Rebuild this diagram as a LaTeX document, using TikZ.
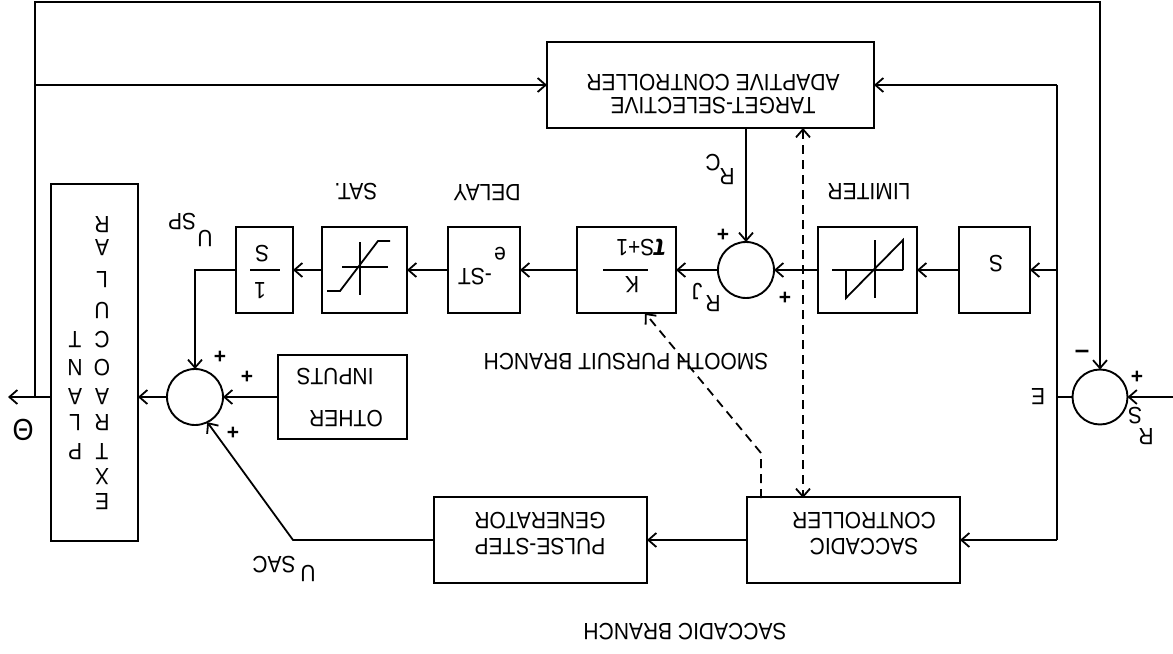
\documentclass[tikz,border=0pt]{standalone}
\usepackage{fontspec}
\setmainfont{Liberation Sans}
\usetikzlibrary{arrows.meta}
\begin{document}
\begin{tikzpicture}[x=1bp,y=-1bp,
  lw/.style={line width=1.8bp},
  blk/.style={draw, line width=2.1bp, inner sep=0pt, outer sep=0pt},
  sumc/.style={draw, circle, line width=1.9bp, minimum size=56bp, inner sep=0pt, outer sep=0pt},
  arr/.style={lw, -{Straight Barb[length=8bp,width=14bp]}},
  darr/.style={lw, dash pattern=on 9bp off 6bp, -{Straight Barb[length=8bp,width=14bp]}},
  dbarr/.style={lw, dash pattern=on 9bp off 6bp, {Straight Barb[length=8bp,width=14bp]}-{Straight Barb[length=8bp,width=14bp]}},
  txt/.style={rotate=180, yscale=1.12, inner sep=0pt, font=\fontsize{21bp}{25bp}\selectfont},
  sgn/.style={inner sep=0pt, font=\fontsize{21bp}{22bp}\selectfont\bfseries},
]
\useasboundingbox (0,0) rectangle (1173,654);
\fill[white] (0,0) rectangle (1173,654);

% blocks
\node[blk, minimum width=87bp, minimum height=357bp] (plant) at (94.5,362.5) {};
\node[blk, minimum width=57bp, minimum height=86bp] (integ) at (264.5,270) {};
\node[blk, minimum width=85bp, minimum height=86bp] (sat) at (364.5,270) {};
\node[blk, minimum width=72bp, minimum height=86bp] (delay) at (484,270) {};
\node[blk, minimum width=99bp, minimum height=86bp] (kbox) at (626.5,270) {};
\node[blk, minimum width=99bp, minimum height=86bp] (lim) at (867.5,270) {};
\node[blk, minimum width=71bp, minimum height=86bp] (sbox) at (994.5,270) {};
\node[blk, minimum width=327bp, minimum height=86bp] (target) at (710.5,85) {};
\node[blk, minimum width=129bp, minimum height=84bp] (other) at (342.5,397) {};
\node[blk, minimum width=213bp, minimum height=86bp] (pulse) at (540.5,540) {};
\node[blk, minimum width=213bp, minimum height=86bp] (sacc) at (853.5,540) {};
\node[sumc] (sum1) at (195,397) {};
\node[sumc] (sum2) at (746,270) {};
\node[sumc, minimum size=55bp] (err) at (1100,397) {};

% coordinates for free ends and junctions
\coordinate (thetaend) at (8,397);
\coordinate (j1) at (35,397);
\coordinate (tl) at (35,2);
\coordinate (j2) at (35,85);
\coordinate (rsin) at (1173,397);
\coordinate (ej) at (1057,397);
\coordinate (etop) at (1057,85);
\coordinate (emid) at (1057,270);
\coordinate (ebot) at (1057,540);
\coordinate (dtop) at (803,128);
\coordinate (dbot) at (803,498);
\coordinate (sp0) at (761,498);
\coordinate (sp1) at (761,453);
\coordinate (sp2) at (645,313);
\coordinate (pbend) at (293,540);

% block symbols
\draw[lw] (342,267) -- (388,267) (360,242) -- (360,295);
\draw[lw] (327,291) -- (340,291) -- (378,241) -- (390,241);
\draw[lw] (832,270) -- (903,270) (875,240) -- (875,298);
\draw[lw] (846,270) -- (846,298) -- (903,240) -- (903,270);
\draw[lw] (250,270) -- (280,270);
\draw[lw] (603,270) -- (648,270);

% connectors
\draw[arr] (sbox.west) -- (lim.east);
\draw[arr] (lim.west) -- (sum2.east);
\draw[arr] (sum2.west) -- (kbox.east);
\draw[arr] (kbox.west) -- (delay.east);
\draw[arr] (delay.west) -- (sat.east);
\draw[arr] (sat.west) -- (integ.east);
\draw[arr] (integ.west) -| (sum1.north);
\draw[arr] (other.west) -- (sum1.east);
\draw[arr] (sum1.west) -- (sum1.west -| plant.east);
\draw[arr] (thetaend -| plant.west) -- (thetaend);
\draw[arr] (j1) -- (tl) -| (err.north);
\draw[arr] (j2) -- (target.west);
\draw[arr] (rsin) -- (err.east);
\draw[lw] (err.west) -- (ej);
\draw[lw] (etop) -- (ebot);
\draw[arr] (etop) -- (target.east);
\draw[arr] (emid) -- (sbox.east);
\draw[arr] (ebot) -- (sacc.east);
\draw[arr] (sum2 |- target.south) -- (sum2.north);
\draw[dbarr] (dtop) -- (dbot);
\draw[darr] (sp0) -- (sp1) -- (sp2);
\draw[arr] (sacc.west) -- (pulse.east);
\draw[arr] (pulse.west) -- (pbend) -- (sum1.-64);

% block texts
\node[txt] (ts) at (996,264) {S};
\node[txt] (ti1) at (262,254) {S};
\node[txt] (ti2) at (260,291) {1};
\node[txt] (tk1) at (641,248) {{\fontsize{27bp}{27bp}\selectfont\bfseries\itshape τ}S+1};
\node[txt] (tk2) at (632,285) {K};
\node[txt] (td1) at (500,254) {e};
\node[txt] (td2) at (475,277) {-ST};
\node[txt] (lsat) at (356,192) {SAT.};
\node[txt] (ldel) at (487,193) {DELAY};
\node[txt] (llim) at (869,192) {LIMITER};
\node[txt, align=center, font=\fontsize{21bp}{21bp}\selectfont] (ttar) at (713,94) {TARGET-SELECTIVE\\ADAPTIVE CONTROLLER};
\node[txt, align=center, font=\fontsize{21bp}{23bp}\selectfont] (tsac) at (864,533.5) {SACCADIC\\CONTROLLER};
\node[txt, align=center, font=\fontsize{21bp}{23bp}\selectfont] (tpul) at (540,533.5) {PULSE-STEP\\GENERATOR};
\node[txt] (tot1) at (346,419) {OTHER};
\node[txt] (tot2) at (335,377) {INPUTS};
\foreach \l/\y [count=\i] in {E/502,X/477,T/452,R/423,A/397,O/368,C/340,U/310,L/280,A/248,R/225}
  \node[txt] (pe\i) at (102,\y) {\l};
\foreach \l/\y [count=\i] in {P/452,L/423,A/397,N/368,T/340}
  \node[txt] (pp\i) at (75,\y) {\l};

% branch labels
\node[txt] (lsp) at (626,362) {SMOOTH PURSUIT BRANCH};
\node[txt] (lsb) at (685,632) {SACCADIC BRANCH};

% signal labels
\node[txt] (usp1) at (205,238) {U};
\node[txt] (usp2) at (182,222) {SP};
\node[txt] (usa1) at (308,573) {U};
\node[txt] (usa2) at (274,565) {SAC};
\node[txt] (rc1) at (727,177) {R};
\node[txt] (rc2) at (713,163) {C};
\node[txt] (rj1) at (713,304) {R};
\node[txt] (rj2) at (697,291) {J};
\node[txt] (rs1) at (1146,437) {R};
\node[txt] (rs2) at (1135,416) {S};
\node[txt] (le) at (1038,397) {E};
\node[txt, font=\fontsize{27bp}{30bp}\selectfont] (lth) at (23,430) {Θ};

% signs
\node[sgn] (s1) at (220,357) {+};
\node[sgn] (s2) at (247,377) {+};
\node[sgn] (s3) at (233,433) {+};
\node[sgn] (s4) at (723,235) {+};
\node[sgn] (s5) at (785,298) {+};
\node[sgn] (s6) at (1137,377) {+};
\node[sgn, font=\fontsize{26bp}{26bp}\selectfont\bfseries] (s7) at (1082,354) {–};
\end{tikzpicture}
\end{document}
